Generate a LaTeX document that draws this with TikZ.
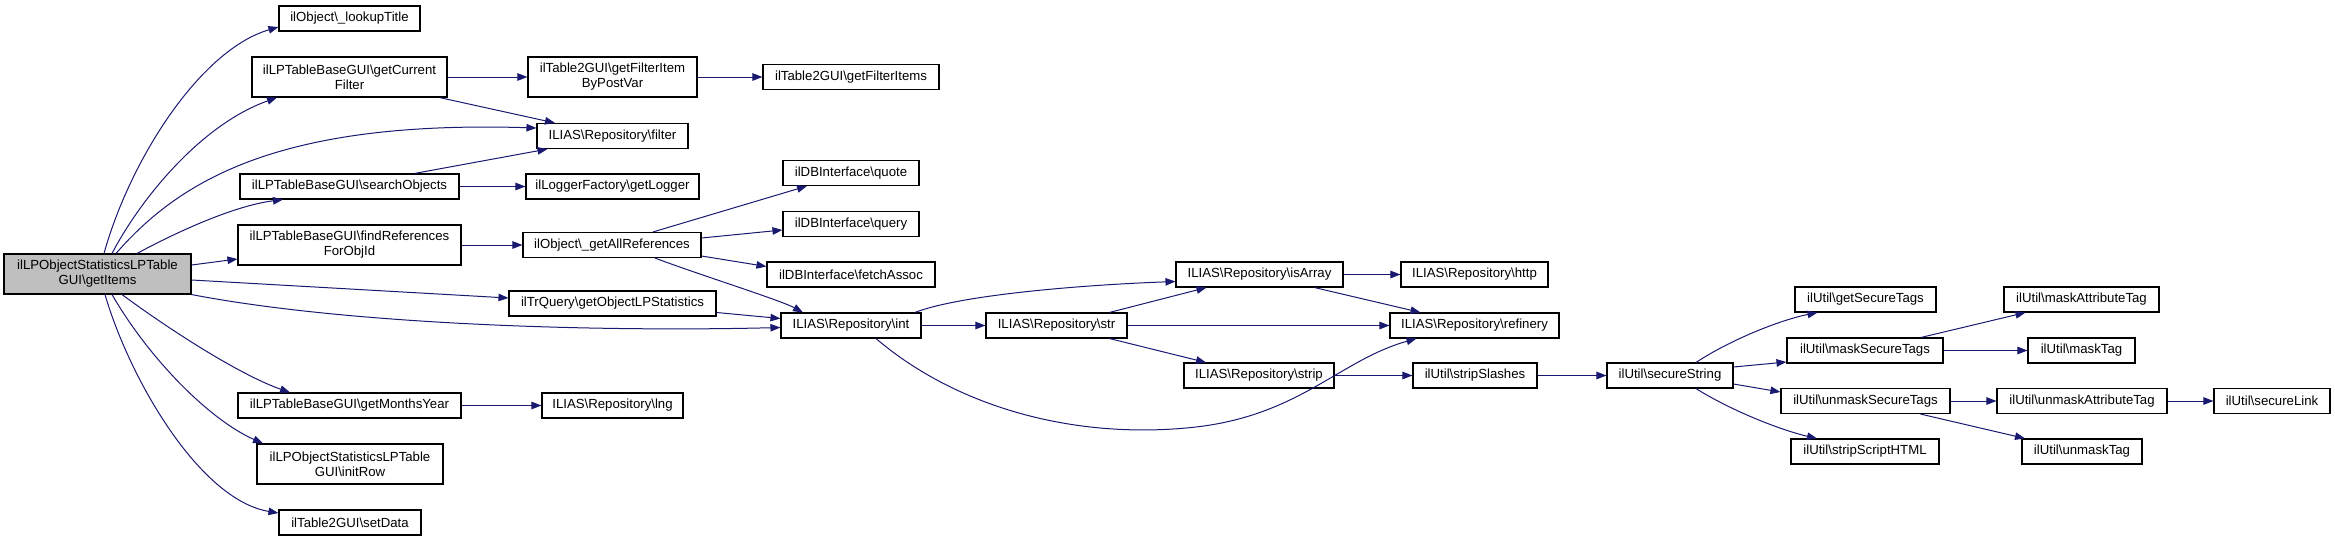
\documentclass[tikz,border=0pt]{standalone}
\usepackage{fontspec}
\setmainfont{Liberation Sans}
\usetikzlibrary{arrows.meta}
\definecolor{edgeblue}{HTML}{191970}
\definecolor{rootgray}{HTML}{BFBFBF}
\tikzset{
  box/.style={draw=black, line width=1.1pt, fill=white, inner sep=0pt, align=center, minimum height=25pt},
  tall/.style={minimum height=40pt},
  rootbox/.style={fill=rootgray},
  edge/.style={draw=edgeblue, line width=1pt, -{Triangle[length=10pt,width=7.5pt]}}
}
\newcommand{\bsl}{\textbackslash}
\begin{document}
\begin{tikzpicture}[x=1pt,y=-1pt, font=\fontsize{13.2}{15}\selectfont]
\useasboundingbox (0,0) rectangle (2335,541);
% nodes
\node[box,tall,rootbox,minimum width=187pt] (root) at (97.5,274) {ilLPObjectStatisticsLPTable\\GUI\bsl getItems};
\node[box,minimum width=141pt] (lookup) at (349.5,18.5) {ilObject\bsl\_lookupTitle};
\node[box,tall,minimum width=195pt] (gcf) at (349.5,77) {ilLPTableBaseGUI\bsl getCurrent\\Filter};
\node[box,minimum width=219pt] (search) at (349.5,186.5) {ilLPTableBaseGUI\bsl searchObjects};
\node[box,tall,minimum width=223pt] (findref) at (349.5,245) {ilLPTableBaseGUI\bsl findReferences\\ForObjId};
\node[box,minimum width=223pt] (gmy) at (349.5,405.5) {ilLPTableBaseGUI\bsl getMonthsYear};
\node[box,tall,minimum width=186pt] (initrow) at (350,464) {ilLPObjectStatisticsLPTable\\GUI\bsl initRow};
\node[box,minimum width=142pt] (setdata) at (350,522.5) {ilTable2GUI\bsl setData};
\node[box,tall,minimum width=169pt] (gfibpv) at (612.5,77) {ilTable2GUI\bsl getFilterItem\\ByPostVar};
\node[box,minimum width=176pt] (gfi) at (851,77) {ilTable2GUI\bsl getFilterItems};
\node[box,minimum width=151pt] (filter) at (612.5,136) {ILIAS\bsl Repository\bsl filter};
\node[box,minimum width=173pt] (logger) at (612.5,186.5) {ilLoggerFactory\bsl getLogger};
\node[box,minimum width=178pt] (gar) at (612,245) {ilObject\bsl\_getAllReferences};
\node[box,minimum width=207pt] (itr) at (612.5,303.5) {ilTrQuery\bsl getObjectLPStatistics};
\node[box,minimum width=141pt] (lng) at (612.5,405.5) {ILIAS\bsl Repository\bsl lng};
\node[box,minimum width=136pt] (quote) at (851,173) {ilDBInterface\bsl quote};
\node[box,minimum width=136pt] (query) at (851,224) {ilDBInterface\bsl query};
\node[box,minimum width=168pt] (fetch) at (851,274.5) {ilDBInterface\bsl fetchAssoc};
\node[box,minimum width=140pt] (int) at (851,325.5) {ILIAS\bsl Repository\bsl int};
\node[box,minimum width=141pt] (str) at (1056.5,325.5) {ILIAS\bsl Repository\bsl str};
\node[box,minimum width=167pt] (isarray) at (1259.5,274.5) {ILIAS\bsl Repository\bsl isArray};
\node[box,minimum width=150pt] (strip) at (1259,375.5) {ILIAS\bsl Repository\bsl strip};
\node[box,minimum width=147pt] (http) at (1474.5,274.5) {ILIAS\bsl Repository\bsl http};
\node[box,minimum width=169pt] (refinery) at (1474.5,325.5) {ILIAS\bsl Repository\bsl refinery};
\node[box,minimum width=124pt] (stripslashes) at (1475,375.5) {ilUtil\bsl stripSlashes};
\node[box,minimum width=126pt] (securestring) at (1670,375.5) {ilUtil\bsl secureString};
\node[box,minimum width=141pt] (getsecure) at (1865.5,299.5) {ilUtil\bsl getSecureTags};
\node[box,minimum width=156pt] (masksecure) at (1865,350.5) {ilUtil\bsl maskSecureTags};
\node[box,minimum width=169pt] (unmasksecure) at (1865.5,401) {ilUtil\bsl unmaskSecureTags};
\node[box,minimum width=148pt] (stripscript) at (1865,451.5) {ilUtil\bsl stripScriptHTML};
\node[box,minimum width=155pt] (maskattr) at (2081.5,299.5) {ilUtil\bsl maskAttributeTag};
\node[box,minimum width=107pt] (masktag) at (2081.5,350.5) {ilUtil\bsl maskTag};
\node[box,minimum width=170pt] (unmaskattr) at (2082,401) {ilUtil\bsl unmaskAttributeTag};
\node[box,minimum width=116pt] (securelink) at (2272,401) {ilUtil\bsl secureLink};
\node[box,minimum width=120pt] (unmasktag) at (2082,451.5) {ilUtil\bsl unmaskTag};
% edges from root
\draw[edge] ([xshift=6.5pt]root.north) .. controls (130,160) and (200,50) .. ([yshift=-8.5pt]lookup.west);
\draw[edge] ([xshift=14.5pt]root.north) .. controls (140,200) and (200,125) .. ([xshift=-72.5pt]gcf.south);
\draw[edge] ([xshift=18.5pt]root.north) .. controls (180,180) and (280,120) .. ([yshift=8pt]filter.west);
\draw[edge] ([xshift=39.5pt]root.north) .. controls (190,225) and (240,205) .. ([xshift=-66.5pt]search.south);
\draw[edge] ([yshift=9pt]root.east) -- ([yshift=-14pt]findref.west);
\draw[edge] ([yshift=-6pt]root.east) -- ([yshift=5.5pt]itr.west);
\draw[edge] (root.south east) .. controls (350,325) and (600,332) .. ([yshift=-2pt]int.west);
\draw[edge] ([xshift=24.5pt]root.south) .. controls (170,330) and (240,375) .. ([xshift=-59.5pt]gmy.north);
\draw[edge] ([xshift=14.5pt]root.south) .. controls (150,360) and (210,420) .. ([xshift=-87pt]initrow.north);
\draw[edge] ([xshift=7.5pt]root.south) .. controls (130,380) and (200,500) .. ([yshift=9.5pt]setdata.west);
% second column
\draw[edge] (gcf) -- (gfibpv);
\draw[edge] ([xshift=90pt]gcf.south) -- ([xshift=-57.5pt]filter.north);
\draw[edge] (gfibpv.east) -- (gfi.west);
\draw[edge] ([xshift=65pt]search.north) -- ([xshift=-65pt]filter.south);
\draw[edge] (search) -- (logger);
\draw[edge] (findref) -- (gar);
\draw[edge] (gmy) -- (lng);
\draw[edge] ([xshift=41pt]gar.north) -- ([xshift=-44pt]quote.south);
\draw[edge] ([yshift=7pt]gar.east) -- ([yshift=-6pt]query.west);
\draw[edge] ([yshift=-11pt]gar.east) -- ([yshift=8pt]fetch.west);
\draw[edge] ([xshift=43pt]gar.south) .. controls (700,275) and (780,300) .. ([xshift=-48pt]int.north);
\draw[edge] ([yshift=-9pt]itr.east) -- ([yshift=7pt]int.west);
% int / str
\draw[edge] ([xshift=64pt]int.north) .. controls (960,295) and (1080,285) .. ([yshift=-7pt]isarray.west);
\draw[edge] (int) -- (str);
\draw[edge] ([xshift=25pt]int.south) .. controls (960,410) and (1080,440) .. (1196,427) .. controls (1300,415) and (1340,360) .. ([xshift=-58pt]refinery.south);
\draw[edge] ([xshift=53pt]str.north) -- ([xshift=-53pt]isarray.south);
\draw[edge] (str) -- (refinery);
\draw[edge] ([xshift=53pt]str.south) -- ([xshift=-53pt]strip.north);
\draw[edge] (isarray) -- (http);
\draw[edge] ([xshift=55pt]isarray.south) -- ([xshift=-54pt]refinery.north);
\draw[edge] (strip) -- (stripslashes);
\draw[edge] (stripslashes) -- (securestring);
% secure string
\draw[edge] ([xshift=26pt]securestring.north) .. controls (1730,340) and (1780,320) .. ([xshift=-48pt]getsecure.south);
\draw[edge] ([yshift=8.5pt]securestring.east) -- ([yshift=-11.5pt]masksecure.west);
\draw[edge] ([yshift=-8.5pt]securestring.east) -- ([yshift=9pt]unmasksecure.west);
\draw[edge] ([xshift=26pt]securestring.south) .. controls (1730,410) and (1780,430) .. ([xshift=-48pt]stripscript.north);
\draw[edge] ([xshift=56pt]masksecure.north) -- ([xshift=-56pt]maskattr.south);
\draw[edge] (masksecure) -- (masktag);
\draw[edge] (unmasksecure) -- (unmaskattr);
\draw[edge] ([xshift=55pt]unmasksecure.south) -- ([xshift=-57pt]unmasktag.north);
\draw[edge] (unmaskattr) -- (securelink);
\end{tikzpicture}
\end{document}
